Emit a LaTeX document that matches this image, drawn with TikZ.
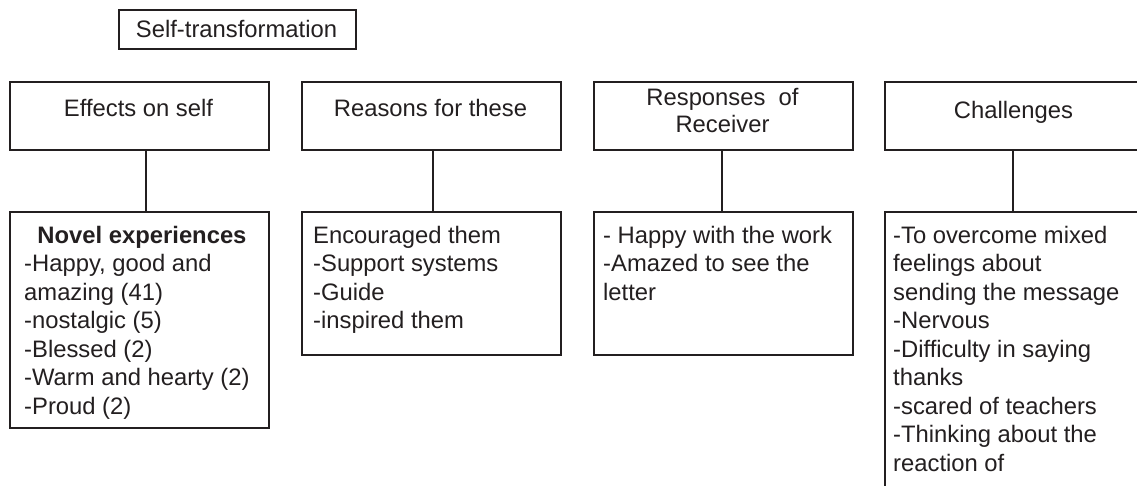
\documentclass[tikz,border=0pt]{standalone}
\usepackage{fontspec}
\setmainfont{Liberation Sans}
\definecolor{ink}{RGB}{35,31,32}
\begin{document}
\begin{tikzpicture}[x=1pt,y=-1pt,
  box/.style={draw=ink, line width=1.8pt, minimum width=259pt, inner sep=0pt, anchor=north west},
  conn/.style={draw=ink, line width=1.8pt},
  txt/.style={text=ink, font=\fontsize{23.8}{28.5}\selectfont, inner sep=0pt},
  list/.style={txt, align=left, anchor=base west},
  head/.style={txt, align=center, anchor=base}]
\useasboundingbox (0,0) rectangle (1137,485);
\clip (0,0) rectangle (1137,485);
\fill[white] (0,0) rectangle (1137,485);

% title
\node[box, minimum width=237pt, minimum height=39pt] (st) at (118,9) {};
\node[head] (stt) at (236.5,37) {Self-transformation};

% top row
\node[box, minimum height=68pt] (e1) at (9,81) {};
\node[box, minimum height=68pt] (e2) at (301,81) {};
\node[box, minimum height=68pt] (e3) at (593,81) {};
\node[box, minimum height=68pt] (e4) at (884,81) {};
\node[head] (h1) at (138.5,116) {Effects on self};
\node[head] (h2) at (430.5,116) {Reasons for these};
\node[head, font=\fontsize{23.8}{27}\selectfont] (h3) at (722.5,132) {Responses~ of\\Receiver};
\node[head] (h4) at (1013.5,118) {Challenges};

% bottom row
\node[box, minimum height=216pt] (n1) at (9,211) {};
\node[box, minimum height=143pt] (n2) at (301,211) {};
\node[box, minimum height=143pt] (n3) at (593,211) {};
\node[box, minimum height=300pt] (n4) at (884,211) {};

% connectors
\draw[conn] ([xshift=6.5pt]e1.south) -- ([xshift=6.5pt]n1.north);
\draw[conn] ([xshift=1.5pt]e2.south) -- ([xshift=1.5pt]n2.north);
\draw[conn] ([xshift=-1.5pt]e3.south) -- ([xshift=-1.5pt]n3.north);
\draw[conn] ([xshift=-1.5pt]e4.south) -- ([xshift=-1.5pt]n4.north);

% texts
\node[head, font=\fontsize{23.8}{28.5}\selectfont\bfseries] (b1) at (142,243) {Novel experiences};
\node[list] (t1) at (24,414) {-Happy, good and\\amazing (41)\\-nostalgic (5)\\-Blessed (2)\\-Warm and hearty (2)\\-Proud (2)};
\node[list] (t2) at (313,328.5) {Encouraged them\\-Support systems\\-Guide\\-inspired them};
\node[list] (t3) at (603,300) {- Happy with the work\\-Amazed to see the\\letter};
\node[list] (t4) at (893,471) {-To overcome mixed\\feelings about\\sending the message\\-Nervous\\-Difficulty in saying\\thanks\\-scared of teachers\\-Thinking about the\\reaction of};
\end{tikzpicture}
\end{document}
